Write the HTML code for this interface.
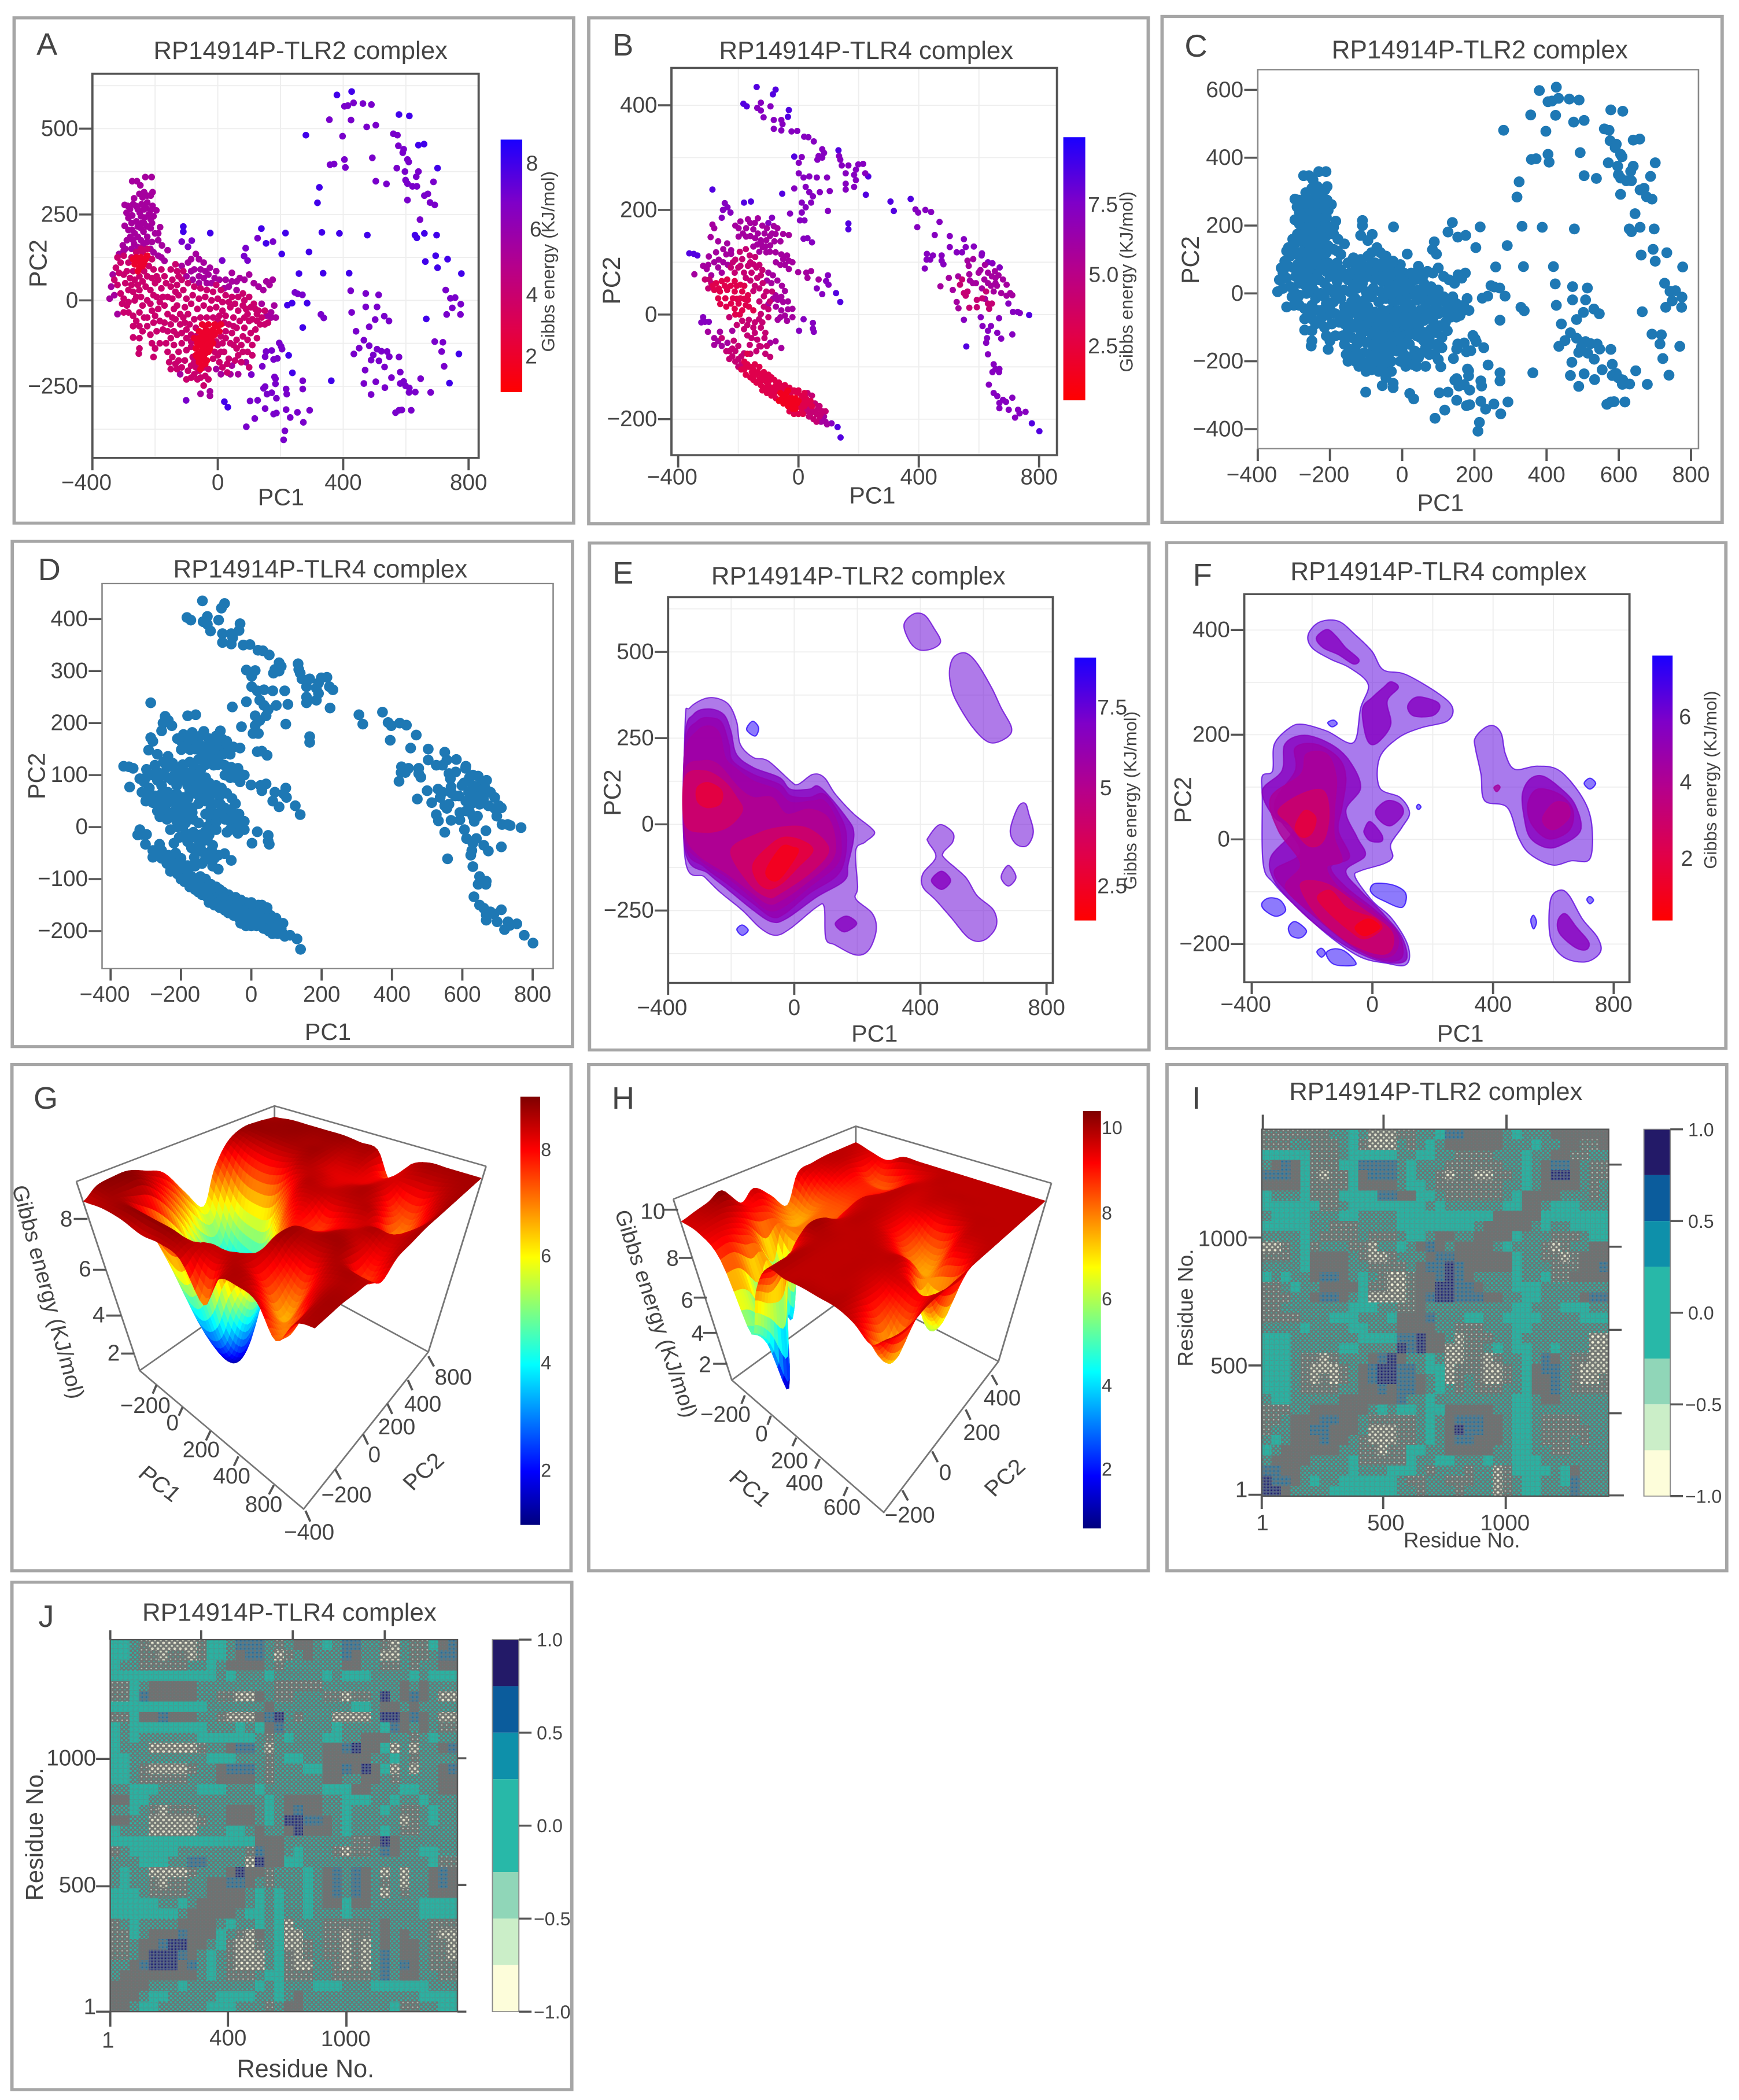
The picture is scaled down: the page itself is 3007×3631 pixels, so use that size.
<!DOCTYPE html>
<html lang="en">
<head>
<meta charset="utf-8">
<title>RP14914P-TLR2 and TLR4 complex PCA, free energy and correlation panels</title>
<style>
html,body{margin:0;padding:0;background:#fff}
svg{display:block}
text{font-family:"Liberation Sans",sans-serif;fill:#444}
.frame{fill:#fff;stroke:#a6a6a6;stroke-width:9}
.title{font-size:68px}
.letter{font-size:84px}
.axt{font-size:64px}
.axr{font-size:72px}
.cbt{font-size:53px}
.plot{fill:#fff;stroke:none}
.plotb{fill:none;stroke:#555;stroke-width:6}
.plott{fill:none;stroke:#888;stroke-width:4}
.box3{stroke:#777;stroke-width:4.5;fill:none}
</style>
</head>
<body>
<svg xmlns="http://www.w3.org/2000/svg" width="3007" height="3631" viewBox="0 0 3007 3631">
<defs>
<linearGradient id="rb" x1="0" y1="1" x2="0" y2="0">
<stop offset="0" stop-color="#ff0000"/><stop offset=".25" stop-color="#e0004a"/><stop offset=".5" stop-color="#b5008c"/><stop offset=".75" stop-color="#7f00c8"/><stop offset="1" stop-color="#1a00ff"/>
</linearGradient>
<linearGradient id="jet" x1="0" y1="1" x2="0" y2="0">
<stop offset="0" stop-color="#00007f"/><stop offset=".125" stop-color="#0000ff"/><stop offset=".375" stop-color="#00ffff"/><stop offset=".625" stop-color="#ffff00"/><stop offset=".875" stop-color="#ff0000"/><stop offset="1" stop-color="#7f0000"/>
</linearGradient>
<pattern id="p-speck" patternUnits="userSpaceOnUse" width="15" height="17"><rect width="15" height="17" fill="#747874"/><circle cx="4" cy="4" r="3.8" fill="#f2f1da"/><circle cx="11.5" cy="12.5" r="3" fill="#d5dcc6"/></pattern>
<pattern id="p-light" patternUnits="userSpaceOnUse" width="13" height="14"><rect width="13" height="14" fill="#6f7472"/><circle cx="3" cy="4" r="2.2" fill="#b6c5ba"/><circle cx="10" cy="11" r="2.2" fill="#3fa89b"/></pattern>
<pattern id="p-mix" patternUnits="userSpaceOnUse" width="12" height="13"><rect width="12" height="13" fill="#6d7473"/><circle cx="3" cy="3.5" r="3.2" fill="#2ab5a6"/><circle cx="9" cy="10" r="2.8" fill="#2ab5a6"/></pattern>
<pattern id="p-teal" patternUnits="userSpaceOnUse" width="13" height="13"><rect width="13" height="13" fill="#2ab2a2"/><circle cx="4" cy="4" r="1.5" fill="#5d8f8a"/><circle cx="10.5" cy="10.5" r="1.2" fill="#5d8f8a"/></pattern>
<pattern id="p-gray" patternUnits="userSpaceOnUse" width="10" height="10"><rect width="10" height="10" fill="#6f7271"/><circle cx="3" cy="3" r="1.6" fill="#7d6f76"/><circle cx="8" cy="8" r="1.6" fill="#5f7d80"/></pattern>
<pattern id="p-blue" patternUnits="userSpaceOnUse" width="11" height="12"><rect width="11" height="12" fill="#4d7c92"/><circle cx="3" cy="3" r="2.6" fill="#6f7271"/><circle cx="8" cy="9" r="2.2" fill="#1f6ba0"/></pattern>
<pattern id="p-navy" patternUnits="userSpaceOnUse" width="9" height="9"><rect width="9" height="9" fill="#4a5a8a"/><circle cx="3" cy="3" r="2.2" fill="#1f1a68"/><circle cx="7.5" cy="7.5" r="1.6" fill="#6f7271"/></pattern>
<pattern id="p-weave" patternUnits="userSpaceOnUse" width="27" height="31"><path d="M0 8H27M0 23H27M7 0V31M20 0V31" stroke="#6f7271" stroke-width="3" fill="none"/></pattern>
<clipPath id="clip-e"><rect x="241" y="196" width="1033" height="1162"/></clipPath>
<clipPath id="clip-f"><rect x="249" y="187" width="1027" height="1169"/></clipPath>
</defs>
<rect width="3007" height="3631" fill="#ffffff"/>

<g id="panel-a" transform="translate(0 0) scale(.6441 .5931)">
<rect class="frame" x="38" y="52" width="1502" height="1473"/>
<text class="letter" x="98" y="160">A</text>
<text class="title" x="412" y="172">RP14914P-TLR2 complex</text>
<rect class="plot" x="248" y="215" width="1037" height="1120"/>
<g id="a-layer"></g>
<rect class="plotb" x="248" y="215" width="1037" height="1120"/>
<text class="axt" x="692" y="1473">PC1</text>
<text class="axr" transform="translate(125 838) rotate(-90)">PC2</text>
<rect x="1344" y="407" width="58" height="736" fill="url(#rb)"/>
<text class="cbt" transform="translate(1488 1026) rotate(-90)">Gibbs energy (KJ/mol)</text>
</g>

<g id="panel-b" transform="translate(1000 0) scale(.6441 .5931)">
<rect class="frame" x="28" y="52" width="1502" height="1475"/>
<text class="letter" x="92" y="162">B</text>
<text class="title" x="378" y="172">RP14914P-TLR4 complex</text>
<rect class="plot" x="250" y="198" width="1035" height="1129"/>
<g id="b-layer"></g>
<rect class="plotb" x="250" y="198" width="1035" height="1129"/>
<text class="axt" x="727" y="1468">PC1</text>
<text class="axr" transform="translate(112 888) rotate(-90)">PC2</text>
<rect x="1302" y="400" width="59" height="767" fill="url(#rb)"/>
<text class="cbt" transform="translate(1488 1085) rotate(-90)">Gibbs energy (KJ/mol)</text>
</g>

<g id="panel-c" transform="translate(1990 0) scale(.6486 .5931)">
<rect class="frame" x="30" y="48" width="1493" height="1475"/>
<text class="letter" x="90" y="165">C</text>
<text class="title" x="482" y="170">RP14914P-TLR2 complex</text>
<rect class="plot" x="285" y="203" width="1175" height="1105"/>
<g id="c-layer"></g>
<rect class="plott" x="285" y="203" width="1175" height="1105"/>
<text class="axt" x="710" y="1490">PC1</text>
<text class="axr" transform="translate(128 828) rotate(-90)">PC2</text>
</g>

<g id="panel-d" transform="translate(0 920) scale(.6441 .574)">
<rect class="frame" x="33" y="28" width="1504" height="1522"/>
<text class="letter" x="102" y="145">D</text>
<text class="title" x="465" y="137">RP14914P-TLR4 complex</text>
<rect class="plot" x="274" y="155" width="1211" height="1160"/>
<g id="d-layer"></g>
<rect class="plott" x="274" y="155" width="1211" height="1160"/>
<text class="axt" x="818" y="1530">PC1</text>
<text class="axr" transform="translate(120 805) rotate(-90)">PC2</text>
</g>

<g id="panel-e" transform="translate(1000 920) scale(.6441 .574)">
<rect class="frame" x="30" y="33" width="1502" height="1527"/>
<text class="letter" x="92" y="155">E</text>
<text class="title" x="357" y="158">RP14914P-TLR2 complex</text>
<rect class="plot" x="241" y="196" width="1033" height="1162"/>
<g id="e-layer"></g>
<rect class="plotb" x="241" y="196" width="1033" height="1162"/>
<text class="axt" x="733" y="1535">PC1</text>
<text class="axr" transform="translate(113 855) rotate(-90)">PC2</text>
<rect x="1332" y="378" width="58" height="792" fill="url(#rb)"/>
<text class="cbt" style="font-size:54px" transform="translate(1498 1077) rotate(-90)">Gibbs energy (KJ/mol)</text>
</g>

<g id="panel-f" transform="translate(1990 920) scale(.6486 .574)">
<rect class="frame" x="42" y="32" width="1491" height="1523"/>
<text class="letter" x="112" y="162">F</text>
<text class="title" x="372" y="145">RP14914P-TLR4 complex</text>
<rect class="plot" x="249" y="187" width="1027" height="1169"/>
<g id="f-layer"></g>
<rect class="plotb" x="249" y="187" width="1027" height="1169"/>
<text class="axt" x="763" y="1535">PC1</text>
<text class="axr" transform="translate(107 877) rotate(-90)">PC2</text>
<rect x="1337" y="372" width="54" height="798" fill="url(#rb)"/>
<text class="cbt" style="font-size:54px" transform="translate(1508 1015) rotate(-90)">Gibbs energy (KJ/mol)</text>
</g>

<g id="panel-g" transform="translate(0 1820) scale(.6441 .5867)">
<rect class="frame" x="32" y="35" width="1501" height="1492"/>
<text class="letter" x="90" y="165">G</text>
<polyline class="box3" points="375,937 753,646 1150,882"/>
<polyline class="box3" points="205,380 737,157 1305,335"/>
<line class="box3" x1="737" y1="157" x2="737" y2="200"/>
<polyline class="box3" points="205,380 375,937 815,1345 1150,882 1305,335"/>
<g id="g-layer"></g>
<text class="axt" transform="translate(415 1287) rotate(40)" text-anchor="middle">PC1</text>
<text class="axt" transform="translate(1152 1250) rotate(-45)" text-anchor="middle">PC2</text>
<text transform="translate(110 710) rotate(76)" text-anchor="middle" style="font-size:65px">Gibbs energy (KJ/mol)</text>
<rect x="1397" y="130" width="53" height="1262" fill="url(#jet)"/>
</g>

<g id="panel-h" transform="translate(1000 1820) scale(.6441 .5867)">
<rect class="frame" x="28" y="35" width="1502" height="1492"/>
<text class="letter" x="90" y="165">H</text>
<polyline class="box3" points="412,965 748,696 1128,910"/>
<polyline class="box3" points="255,432 745,217 1270,385"/>
<line class="box3" x1="745" y1="217" x2="745" y2="270"/>
<polyline class="box3" points="255,432 412,965 820,1355 1128,910 1270,385"/>
<g id="h-layer"></g>
<text class="axt" transform="translate(447 1300) rotate(42)" text-anchor="middle">PC1</text>
<text class="axt" transform="translate(1160 1268) rotate(-45)" text-anchor="middle">PC2</text>
<text transform="translate(190 775) rotate(73)" text-anchor="middle" style="font-size:64px">Gibbs energy (KJ/mol)</text>
<rect x="1355" y="172" width="48" height="1230" fill="url(#jet)"/>
</g>

<g id="panel-i" transform="translate(2000 1820) scale(.6422 .5867)">
<rect class="frame" x="28" y="35" width="1507" height="1492"/>
<text class="letter" x="95" y="165">I</text>
<text class="title" x="357" y="140">RP14914P-TLR2 complex</text>
<g id="i-layer"></g>
<rect x="283" y="226" width="934" height="1081" fill="none" stroke="#555" stroke-width="4"/>
<text x="665" y="1458" style="font-size:57px">Residue No.</text>
<text transform="translate(97 925) rotate(-90)" style="font-size:63px">Residue No.</text>
</g>

<g id="panel-j" transform="translate(0 2720) scale(.6441 .581)">
<rect class="frame" x="32" y="27" width="1503" height="1510"/>
<text class="letter" x="103" y="160">J</text>
<text class="title" x="382" y="142">RP14914P-TLR4 complex</text>
<g id="j-layer"></g>
<rect x="296" y="198" width="932" height="1107" fill="none" stroke="#555" stroke-width="4"/>
<text x="636" y="1500" style="font-size:67px">Residue No.</text>
<text transform="translate(115 975) rotate(-90)" style="font-size:72px">Residue No.</text>
</g>
</svg>

<script>
/* ---------- PCA scatter data (PC1, PC2 pairs by Gibbs band) ---------- */
const tlr2GibbsBands = [8, 6.9, 5.4, 3.9, 2.1];
const tlr2Band8 = [[-24,196],[21,-295],[32,-311],[362,-234],[216,196],[204,135],[139,209],[154,166],[259,78],[336,79],[419,79],[332,198],[388,195],[477,190],[281,481],[701,385],[578,541],[611,537],[640,452],[658,455],[427,608],[380,598],[733,120],[777,78],[769,-156],[739,-241],[665,-54],[-110,215],[-110,200],[291,141],[324,329],[318,284],[698,190],[659,195],[629,190],[635,182],[701,95],[695,130],[662,113],[226,-160],[238,-211],[271,-79],[222,-14],[237,-8],[285,-8]];
const tlr2Band7 = [[433,575],[404,565],[415,567],[463,573],[490,570],[356,526],[425,525],[398,478],[475,505],[504,510],[560,485],[573,481],[576,450],[593,440],[590,430],[605,410],[609,403],[404,410],[358,395],[371,397],[407,387],[493,415],[571,385],[597,375],[640,375],[633,360],[504,347],[538,339],[599,350],[605,340],[621,332],[635,332],[688,345],[659,305],[670,310],[605,292],[677,285],[692,278],[645,235],[727,30],[424,28],[472,20],[513,16],[742,6],[757,8],[775,-11],[748,-22],[730,-41],[774,-41],[472,-19],[508,-19],[427,-35],[531,-46],[546,-60],[502,-56],[483,-77],[441,-90],[466,-116],[692,-120],[718,-122],[714,-149],[451,-139],[434,-156],[483,-132],[508,-142],[522,-148],[540,-149],[496,-159],[514,-176],[489,-174],[547,-164],[578,-165],[532,-194],[470,-203],[722,-192],[554,-225],[582,-209],[647,-228],[466,-242],[504,-237],[582,-242],[593,-236],[599,-249],[611,-255],[533,-254],[610,-268],[630,-267],[679,-268],[489,-274],[567,-327],[578,-320],[587,-319],[617,-320],[-101,-291],[103,-293],[127,-291],[91,-368],[118,-344],[151,-315],[178,-331],[187,-328],[157,-273],[146,-256],[151,-251],[172,-269],[187,-285],[184,-243],[181,-223],[184,-228],[218,-258],[220,-273],[218,-318],[231,-341],[254,-326],[273,-355],[293,-320],[214,-380],[210,-406],[271,-234],[271,-258],[205,-142],[196,-124],[202,-134],[154,-149],[172,-146],[151,-164],[178,-172],[190,-169],[142,-192],[107,-216],[246,23],[255,19],[270,16],[329,-41],[338,-51],[127,181],[176,171],[89,152],[84,129],[95,116],[14,116],[-115,171],[-83,174],[-95,156]];
const tlr2Band5 = [[-231,359],[-211,359],[-273,347],[-258,347],[-247,335],[-235,315],[-208,315],[-214,305],[-267,297],[-297,278],[-287,275],[-261,275],[-243,280],[-225,285],[-208,275],[-291,255],[-273,247],[-249,255],[-229,270],[-196,262],[-234,241],[-214,236],[-297,217],[-243,225],[-225,215],[-184,213],[-273,205],[-237,200],[-214,210],[-190,195],[-279,185],[-255,185],[-225,185],[-190,175],[-267,165],[-237,163],[-178,160],[-160,146],[-303,160],[-115,100],[-95,110],[-85,85],[-100,70],[-75,90],[-60,70],[-45,65],[-30,75],[-20,50],[-5,85],[-85,120],[-70,135],[-60,120],[-45,110],[25,60],[45,80],[70,65],[85,60],[100,75],[115,50],[130,40],[145,30],[165,45],[175,60],[155,55],[180,-15],[140,-10],[170,-35],[185,-50],[170,-50],[155,-45],[60,30],[35,40],[-5,-200],[10,-215],[40,-215],[65,-215],[-120,-215],[-55,-272],[-25,-265],[-25,-278],[90,-180],[45,-190],[-340,40],[-345,5],[-335,75],[-320,-40],[-330,15],[-285,240],[-260,230],[-245,245],[-220,250],[-205,245],[-280,265],[-255,265],[-235,265],[-215,262],[-275,225],[-255,215],[-235,225],[-210,225],[-285,205],[-265,195],[-245,210],[-200,195],[-290,175],[-270,175],[-245,175],[-210,170],[-295,150],[-275,150],[-255,155],[-215,150],[-205,140],[-190,130],[-180,125],[-170,115],[-315,135],[-300,145],[-225,170],[-240,300],[-225,305],[-250,310],[-270,280],[45,55],[60,55],[20,35],[5,60],[-10,65],[-25,95],[-35,50],[-60,50],[-80,60],[-40,85],[-55,90]];
const tlr2Band4 = [[-300,130],[-310,110],[-320,125],[-245,150],[-225,150],[-320,45],[-310,20],[-305,-10],[-290,-15],[-300,-35],[-270,-45],[-250,-35],[-270,25],[-250,30],[-245,10],[-265,0],[-230,40],[-215,30],[-200,50],[-195,10],[-180,35],[-215,-10],[-210,-30],[-190,-25],[-235,-50],[-225,-75],[-250,-75],[-270,-75],[-205,-65],[-195,-90],[-215,-100],[-270,-108],[-250,-110],[-250,-140],[-252,-155],[-210,-125],[-200,-140],[-205,-165],[-185,-125],[-165,-125],[-175,-85],[-150,-70],[-160,-40],[-170,-15],[-160,10],[-150,40],[-170,70],[-150,90],[-130,85],[-180,90],[-195,70],[-115,60],[-130,45],[-110,30],[-95,50],[-75,40],[-55,35],[-35,30],[-15,25],[-5,45],[10,30],[-125,15],[-100,5],[-80,15],[-60,5],[-40,10],[-20,0],[0,5],[15,-5],[-130,-15],[-105,-20],[-85,-10],[-65,-25],[-45,-15],[-25,-25],[-5,-20],[15,-30],[25,-45],[40,-20],[50,-50],[65,-30],[80,-15],[95,-40],[110,-55],[125,-60],[140,-50],[130,-30],[115,-10],[100,10],[80,20],[25,-110],[45,-95],[60,-80],[85,-80],[105,-95],[20,-150],[35,-170],[65,-160],[95,-150],[110,-130],[75,-130],[50,-130],[30,-185],[5,-180],[0,-130],[15,-125],[-70,-80],[-85,-100],[-100,-85],[-120,-70],[-130,-100],[-115,-125],[-140,-130],[-125,-150],[-100,-145],[-85,-135],[-105,-175],[-85,-190],[-150,-200],[-130,-200],[-100,-230],[-80,-165],[-60,-205],[-40,-220],[-30,-230],[-45,-248],[-30,-200],[-45,-195],[-270,85],[-290,85],[-280,65],[-300,75],[-265,60],[-250,70],[-235,85],[-220,100],[-210,120],[-205,90],[-240,140],[-260,140],[-285,110],[-275,125],[-325,95],[-330,60],[-315,80],[-295,50],[-285,30],[-300,5],[-285,-5],[-275,45],[-260,10],[-240,-15],[-225,0],[-205,15],[-190,60],[-210,65],[-225,70],[-240,55],[-255,45],[-285,-35],[-260,-60],[-240,-90],[-225,-50],[-200,-45],[-185,-60],[-170,-65],[-160,-90],[-145,-50],[-140,-25],[-145,5],[-135,25],[-145,60],[-125,70],[-110,85],[-135,105],[-165,50],[-175,10],[-185,-5],[-110,-50],[-95,-40],[-75,-55],[-55,-50],[-35,-50],[-15,-50],[5,-45],[-120,-40],[-135,-55],[-105,-65],[-90,-70],[-115,-95],[-100,-110],[-85,-120],[-70,-105],[-70,-120],[-125,-175],[-145,-165],[-160,-150],[-150,-110],[-140,-90],[-155,-180],[-135,-185],[-115,-195],[-95,-205],[-75,-215],[-85,-225],[-65,-230],[-55,-225],[-70,-195],[-75,-180],[0,-60],[20,-65],[35,-70],[50,-75],[70,-60],[85,-50],[100,-60],[90,-25],[55,-10],[35,-5],[25,15],[45,10],[65,10],[85,0],[105,-20],[120,-25],[135,-70],[120,-85],[95,-115],[80,-105],[60,-115],[40,-125],[25,-90],[10,-105],[-5,-120],[10,-150],[-10,-150],[-15,-170],[0,-160],[15,-195],[30,-210],[55,-175],[75,-180],[80,-150],[60,-140],[125,-110],[110,-160],[100,-195],[125,-40],[150,-30],[160,-65],[150,-70]];
const tlr2Band2 = [[-255,115],[-245,125],[-265,105],[-235,110],[-250,95],[-225,130],[-40,-110],[-50,-100],[-30,-100],[-45,-125],[-55,-130],[-35,-130],[-60,-110],[-25,-120],[-20,-95],[-40,-90],[-50,-145],[-60,-155],[-40,-155],[-30,-150],[-70,-140],[-50,-170],[-35,-175],[-60,-180],[-10,-100],[5,-90],[-10,-70],[10,-70],[-30,-70],[-50,-70],[-260,125],[-240,100],[-255,85],[-270,120],[-230,120],[-245,110],[-35,-115],[-45,-140],[-55,-115],[-40,-135],[-65,-125],[-30,-125],[-20,-110],[-55,-160],[-45,-165],[-65,-165],[-30,-90],[-15,-85],[0,-75],[-40,-75],[-60,-90],[-75,-110],[-70,-160],[-50,-190],[-40,-185],[-55,-200],[-15,-125],[-25,-140]];

const tlr4GibbsBands = [8.6, 7.3, 6, 4.4, 3, 1.6];
const tlr4Band8 = [[-286,239],[-181,214],[-158,216],[-139,435],[-76,430],[139,24],[166,174],[166,163],[306,216],[317,198],[373,221],[801,-223],[776,-208],[140,-235],[130,-215],[558,-61],[767,-1],[125,41],[-35,378],[-32,391],[-14,302],[-54,231],[-85,421],[-183,403],[-172,398],[133,314],[232,264],[224,229],[-363,117],[-348,116],[-336,113]];
const tlr4Band7 = [[-125,405],[-137,395],[-125,390],[-116,377],[-93,398],[-82,372],[-57,372],[-53,364],[-82,355],[-57,352],[-23,350],[-4,351],[19,340],[33,339],[51,331],[11,301],[1,290],[79,316],[85,309],[67,303],[79,300],[63,296],[135,303],[139,296],[144,285],[166,285],[199,287],[215,288],[191,277],[185,267],[222,270],[191,257],[157,270],[1,270],[17,262],[36,264],[61,262],[24,244],[95,262],[-14,241],[36,234],[48,226],[71,234],[104,236],[157,250],[157,239],[185,244],[11,214],[42,214],[24,205],[98,198],[11,195],[-28,193],[5,180],[20,180],[17,145],[30,146],[45,138],[389,201],[398,195],[422,200],[441,196],[395,167],[469,177],[453,152],[503,150],[427,116],[447,113],[426,105],[438,105],[420,88],[476,113],[476,103],[482,96],[503,129],[526,119],[544,119],[550,144],[556,129],[583,130],[610,117],[609,113],[630,100],[645,98],[669,90],[698,21],[713,5],[729,5],[736,3],[550,-10],[606,-5],[667,-7],[612,-22],[640,-22],[630,-31],[627,-45],[624,-54],[661,-35],[674,-46],[711,-38],[630,-76],[649,-95],[655,-104],[668,-104],[645,-110],[667,-110],[633,-134],[649,-150],[661,-156],[680,-163],[711,-159],[668,-169],[690,-167],[668,-179],[699,-182],[730,-182],[755,-186],[720,-197],[735,-189],[110,-208],[-245,213],[-236,205],[-251,200],[-226,195],[-255,185],[-88,185],[-100,175],[-317,-5],[-323,-15],[-311,-14],[-298,-14],[79,39],[61,50],[100,57],[92,64],[98,75],[48,-16],[48,-27],[51,-33],[2,-31],[17,-9]];
const tlr4Band6 = [[-286,172],[-280,165],[-292,148],[-267,140],[-237,136],[-224,123],[-224,116],[-274,119],[-298,111],[-346,77],[-317,93],[-305,87],[-267,90],[-255,80],[-193,178],[-168,182],[-135,184],[-82,169],[-199,165],[-174,165],[-150,163],[-113,155],[-88,155],[-76,154],[-51,154],[-32,152],[-199,149],[-174,149],[-144,146],[-125,142],[-107,142],[-137,134],[-119,129],[-94,132],[-107,119],[-125,136],[-76,119],[-57,115],[-38,113],[-51,106],[-32,103],[-20,100],[-32,87],[-1,81],[26,80],[42,83],[30,70],[67,67],[-100,80],[-76,37],[-57,34],[-69,28],[-51,24],[-20,11],[-57,8],[-45,-2],[-20,-5],[-69,-10],[-38,-12],[500,70],[472,54],[531,73],[568,77],[599,80],[618,67],[653,83],[643,73],[655,70],[680,67],[692,57],[704,41],[711,37],[649,44],[674,41],[692,36],[562,103],[581,106],[566,93],[-301,-33],[-261,-33],[-220,-31],[-280,-45],[-267,-51],[-280,-58],[-255,-60],[-236,-54],[-94,-54],[-76,-51],[-57,-64],[513,47],[526,24],[532,12],[90,-205],[95,-210],[85,-195],[80,-200],[75,-205],[-210,170],[-185,155],[-160,175],[-145,175],[-120,170],[-105,165],[-95,150],[-160,150],[-135,155],[-110,130],[-130,120],[-95,120],[-150,130],[-70,165],[-60,140],[-80,140],[-45,95],[-60,95],[-75,100],[-85,75],[-70,65],[-55,55],[-45,45],[-35,25],[-35,10],[-85,30],[-100,20],[-75,15],[-60,-5],[-90,60],[-105,65],[-300,95],[-290,75],[-280,100],[-265,105],[-250,100],[-240,115],[-250,125],[-235,95],[590,60],[610,50],[630,60],[640,55],[655,60],[665,75],[630,80],[620,95],[605,85],[580,60],[570,65],[660,55],[620,30]];
const tlr4Band4 = [[-311,67],[-296,67],[-218,100],[-187,106],[-162,113],[-144,110],[-193,93],[-168,93],[-150,96],[-212,80],[-181,80],[-156,80],[-137,70],[-119,60],[-88,44],[-107,44],[-187,-12],[-230,-5],[-131,-9],[-125,1],[-100,-5],[544,67],[537,57],[550,41],[562,44],[556,36],[624,44],[568,13],[593,14],[611,31],[593,28],[630,21],[643,21],[634,11],[-181,-28],[-150,-25],[-125,-25],[-156,-45],[-137,-48],[-113,-45],[-162,-58],[-125,-61],[-94,-81],[-181,-74],[-230,-70],[-230,-85],[-220,-80],[-220,-65],[-210,-90],[-210,-70],[-200,-85],[-200,-100],[-190,-95],[-190,-80],[40,-190],[45,-155],[50,-185],[50,-200],[55,-170],[60,-190],[60,-205],[65,-180],[70,-195],[70,-175],[75,-190],[80,-185],[35,-195],[35,-180],[30,-150],[25,-185],[90,-185],[-290,60],[-300,50],[-225,90],[-210,105],[-195,120],[-175,125],[-160,100],[-140,90],[-130,95],[-120,85],[-125,75],[-200,90],[-175,70],[-160,65],[-145,55],[-130,50],[-115,35],[-95,25],[-130,25],[-115,15],[-100,10],[-150,45],[-205,-20],[-170,-20],[-165,-10],[-145,-15],[-120,-15],[-170,-40],[-145,-35],[-130,-60],[-110,-35],[-105,-60],[-110,-75],[-140,-70],[-160,-75],[-200,-60],[-215,-50],[-240,-70],[-255,-45]];
const tlr4Band3 = [[-274,60],[-255,64],[-237,67],[-212,64],[-193,57],[-280,47],[-261,44],[-237,47],[-212,44],[-187,44],[-168,37],[-267,31],[-243,31],[-218,31],[-193,31],[-168,28],[-224,21],[-199,21],[-175,18],[-212,11],[-187,8],[-150,8],[-180,-105],[-180,-90],[-175,-115],[-170,-95],[-160,-120],[-160,-100],[-155,-110],[-150,-125],[-150,-105],[-145,-115],[-145,-95],[-140,-130],[-140,-115],[-135,-110],[-130,-125],[-130,-100],[-125,-135],[-125,-115],[-120,-125],[-120,-145],[-115,-110],[-110,-140],[-110,-120],[-105,-130],[-105,-150],[-100,-135],[-100,-115],[-95,-145],[-95,-125],[-90,-155],[-90,-120],[-85,-140],[-80,-125],[-80,-150],[-75,-135],[-75,-160],[-70,-145],[-65,-130],[-60,-135],[-55,-140],[-45,-135],[-50,-145],[-30,-140],[-25,-150],[-15,-145],[-5,-150],[0,-145],[10,-155],[20,-150],[30,-170],[25,-160],[20,-175],[15,-165],[15,-190],[10,-180],[5,-175],[0,-190],[-30,-185],[-15,-190],[40,-165],[45,-175],[-285,55],[-265,50],[-245,55],[-225,55],[-205,55],[-180,55],[-260,20],[-240,15],[-205,30],[-180,30],[-195,0],[-210,0],[-165,15],[-170,-75],[-165,-100],[-190,-105],[-175,-100]];
const tlr4Band1 = [[-65,-165],[-60,-150],[-55,-160],[-50,-170],[-45,-155],[-40,-165],[-40,-150],[-35,-175],[-35,-145],[-30,-160],[-25,-170],[-20,-180],[-20,-160],[-15,-170],[-10,-160],[-10,-180],[-5,-170],[0,-165]];

/* ---------- free-energy contours: PC1,PC2 outlines per level ---------- */
const contourELevels = [7.6,6.9,6.4,6.0,5.4,4.2,4.2,3.0,3.0,2.2,7.6,7.6,8.8,8.8,7.6,6.9,7.6,7.6,6.9];
const contourEShapes = [
[[-346,290],[-331,338],[-272,367],[-213,352],[-183,299],[-171,232],[-130,194],[-83,184],[-12,126],[12,116],[59,145],[95,136],[130,88],[189,30],[242,-9],[254,-28],[224,-52],[195,-76],[201,-182],[195,-216],[248,-259],[260,-307],[236,-365],[195,-379],[130,-350],[100,-331],[95,-240],[71,-240],[-12,-302],[-59,-322],[-106,-302],[-165,-249],[-236,-196],[-284,-153],[-346,-100]],
[[-346,251],[-319,319],[-272,335],[-224,319],[-201,271],[-183,203],[-130,165],[-47,136],[-12,102],[47,102],[83,107],[165,20],[189,-28],[171,-115],[159,-163],[71,-211],[-24,-273],[-71,-283],[-130,-249],[-213,-187],[-272,-143],[-346,-76]],
[[-346,232],[-307,299],[-266,309],[-230,295],[-207,232],[-195,184],[-130,145],[-47,116],[-12,83],[47,78],[95,88],[142,30],[165,-28],[159,-105],[130,-153],[47,-201],[-30,-259],[-71,-269],[-130,-230],[-213,-172],[-284,-124],[-346,-57]],
[[-346,203],[-307,271],[-266,285],[-236,261],[-219,194],[-189,165],[-130,126],[-59,102],[-12,64],[59,68],[95,68],[130,20],[148,-47],[136,-115],[47,-182],[-35,-240],[-83,-249],[-136,-211],[-213,-153],[-295,-105],[-346,-38]],
[[-346,155],[-295,184],[-242,174],[-177,107],[-130,78],[-71,78],[-24,30],[47,44],[106,20],[130,-47],[118,-105],[35,-172],[-41,-220],[-83,-230],[-142,-192],[-213,-143],[-307,-86],[-346,-18]],
[[-346,136],[-284,155],[-224,126],[-183,78],[-165,39],[-213,-9],[-284,-23],[-346,1]],
[[-201,-76],[-118,-28],[-47,-9],[35,-9],[95,-47],[106,-86],[47,-143],[-47,-201],[-83,-211],[-142,-172]],
[[-307,107],[-272,121],[-230,97],[-236,59],[-278,49],[-307,68]],
[[-130,-115],[-83,-66],[-35,-38],[24,-47],[59,-76],[12,-124],[-41,-172],[-83,-187],[-118,-163]],
[[-89,-134],[-41,-66],[-6,-66],[12,-81],[-41,-153],[-71,-163]],
[[348,579],[378,610],[413,607],[443,569],[464,530],[437,509],[396,506],[366,530]],
[[493,453],[508,487],[543,497],[579,468],[626,396],[656,338],[689,280],[673,251],[620,237],[567,280],[514,357],[496,405]],
[[-151,275],[-132,299],[-113,280],[-124,256]],
[[-182,-305],[-165,-292],[-146,-307],[-165,-322]],
[[425,-38],[461,-1],[502,-23],[502,-52],[473,-81],[478,-100],[543,-153],[579,-206],[632,-249],[640,-297],[602,-336],[555,-331],[496,-269],[449,-220],[408,-182],[408,-143],[449,-95],[425,-52]],
[[435,-163],[467,-136],[496,-163],[467,-189]],
[[685,-18],[709,49],[732,61],[744,30],[758,-23],[738,-62],[703,-57]],
[[656,-153],[679,-119],[703,-153],[679,-179]],
[[130,-288],[165,-266],[198,-288],[159,-312]]
];
const contourFLevels = [6.6,5.6,5.0,4.4,3.0,3.0,1.8,1.8,0.8,5.7,5.7,5.7,5.6,5.7,7.6,7.6,6.6,5.6,5.0,4.2,4.6,7.6,6.6,5.6,7.6,7.6,7.6,7.6,7.6,7.6,7.6];
const contourFShapes = [
[[-365,121],[-331,131],[-325,182],[-275,213],[-232,220],[-151,207],[-63,185],[-39,251],[-14,296],[-76,328],[-138,344],[-200,366],[-213,391],[-176,415],[-113,417],[-57,391],[-1,359],[36,324],[111,315],[223,277],[266,251],[248,226],[161,213],[86,194],[24,156],[24,99],[92,80],[123,51],[98,23],[61,-9],[67,-34],[36,-47],[-39,-60],[-57,-72],[-1,-117],[61,-149],[111,-193],[123,-225],[105,-241],[49,-237],[-39,-225],[-138,-187],[-238,-136],[-325,-85],[-362,-47],[-365,80]],
[[-365,93],[-300,131],[-290,182],[-225,199],[-138,182],[-76,150],[-39,99],[-88,55],[-51,4],[-24,-31],[-88,-60],[-39,-98],[36,-142],[98,-187],[111,-231],[36,-234],[-63,-212],[-163,-174],[-250,-130],[-325,-79],[-337,-34],[-263,17],[-325,42]],
[[-325,61],[-256,131],[-256,175],[-188,182],[-113,156],[-88,118],[-101,61],[-113,17],[-76,-34],[-138,-53],[-88,-91],[11,-136],[86,-180],[98,-225],[36,-231],[-63,-206],[-176,-155],[-275,-104],[-325,-60],[-238,-22]],
[[-337,80],[-238,124],[-219,163],[-151,163],[-120,118],[-126,55],[-126,4],[-101,-41],[-151,-53],[-113,-91],[-1,-136],[80,-180],[73,-218],[11,-225],[-76,-199],[-200,-142],[-288,-91],[-238,-47],[-312,17]],
[[-312,55],[-238,86],[-163,93],[-144,48],[-163,-3],[-213,-12],[-275,29]],
[[-238,-85],[-151,-85],[-39,-130],[61,-174],[61,-212],[11,-218],[-88,-193],[-188,-142]],
[[-256,23],[-225,55],[-188,42],[-200,13],[-232,4]],
[[-182,-110],[-138,-98],[-88,-130],[-39,-142],[11,-152],[30,-171],[-26,-190],[-76,-174],[-151,-136]],
[[-57,-168],[-14,-152],[24,-168],[-26,-184]],
[[-186,385],[-151,401],[-120,388],[-88,366],[-45,344],[-63,335],[-113,353],[-163,366]],
[[-32,251],[-1,271],[36,290],[61,301],[86,290],[49,264],[61,220],[24,188],[-7,182],[-26,207]],
[[117,255],[148,272],[210,264],[223,251],[198,236],[136,236]],
[[11,55],[49,74],[92,67],[101,48],[61,26],[24,36]],
[[-26,20],[-7,34],[30,10],[30,-4],[-7,-3],[-26,10]],
[[-148,223],[-129,228],[-117,221],[-134,215]],
[[146,62],[153,67],[161,62],[153,57]],
[[341,194],[372,213],[403,217],[428,201],[441,163],[472,134],[547,140],[621,131],[696,80],[727,29],[721,-37],[659,-41],[596,-49],[522,-28],[484,4],[447,61],[372,74],[360,124],[341,175]],
[[497,86],[522,115],[565,121],[621,99],[671,67],[690,17],[621,-12],[571,-15],[522,4],[503,42]],
[[515,67],[547,96],[621,86],[665,55],[652,17],[584,1],[528,29]],
[[565,42],[603,70],[646,67],[652,42],[609,20],[578,23]],
[[403,99],[416,104],[423,99],[412,91]],
[[702,107],[721,117],[740,107],[721,96]],
[[590,-117],[621,-97],[652,-107],[696,-152],[746,-187],[756,-215],[708,-234],[634,-225],[590,-187]],
[[615,-155],[640,-142],[677,-168],[717,-196],[708,-211],[671,-206],[621,-180]],
[[711,-115],[721,-109],[733,-116],[721,-123]],
[[525,-155],[534,-145],[544,-158],[534,-171]],
[[-367,-123],[-344,-112],[-306,-116],[-288,-136],[-319,-147],[-356,-136]],
[[-278,-168],[-256,-157],[-219,-174],[-238,-188],[-269,-184]],
[[-153,-218],[-126,-209],[-88,-215],[-55,-239],[-126,-239]],
[[-184,-215],[-169,-208],[-156,-217],[-169,-225]],
[[-7,-95],[11,-84],[73,-88],[111,-104],[98,-130],[36,-117],[5,-107]]
];

/* ---------- 3D free-energy surfaces: Gibbs height per PC1 (row) / PC2 (column) grid ---------- */
const surfaceGHeights = [
[8.4,8.8,8.9,8.9,8.6,8.2,7.0,6.0,7.4,8.4,8.8,8.8,8.7],
[8.6,8.7,8.5,8.2,7.2,5.6,4.2,4.2,5.8,7.8,8.7,8.8,8.8],
[8.6,8.7,6.5,4.0,2.6,2.0,2.4,3.4,5.4,7.6,8.6,8.8,8.8],
[8.4,8.7,5.5,2.8,1.4,1.1,2.0,3.4,5.6,7.8,8.6,8.7,8.8],
[8.5,8.7,6.5,3.2,1.9,2.0,3.2,5.2,7.2,8.4,8.7,8.7,8.8],
[8.3,8.5,8.0,5.0,3.8,4.4,5.6,7.4,8.4,8.5,8.3,8.5,8.7],
[6.8,8.2,8.3,6.6,6.0,6.6,7.6,8.2,8.5,8.3,8.2,8.5,8.6],
[8.4,8.6,8.5,8.4,8.6,8.5,7.9,7.6,8.4,8.5,8.2,8.0,7.4],
[8.6,8.4,7.6,7.8,8.4,8.6,8.2,8.0,8.5,8.6,8.4,8.3,8.4],
[8.4,7.4,6.6,7.2,8.2,8.7,8.6,8.3,8.5,8.0,7.6,8.4,8.7],
[7.2,7.0,7.8,8.2,8.6,8.6,8.4,8.6,7.6,6.9,7.4,8.4,8.7],
[8.4,8.5,8.6,8.6,8.6,7.6,8.0,8.4,8.2,7.8,8.3,8.6,8.7],
[8.7,8.7,8.7,8.6,8.5,8.0,8.5,8.6,8.7,8.7,8.7,8.7,8.7]
];
const surfaceHHeights = [
[9.6,9.8,10,10.3,9.2,9.7,8.9,7.9,9.5,9.7,9.8,9.8,9.8],
[9.5,9.6,9.6,9.2,8.6,8.4,7.6,7.6,8.5,9.4,9.7,9.6,9.5],
[8.6,8.6,7.8,7.6,3.4,7.6,8,8.2,8.4,8.8,9,8.5,9.3],
[5,4,1,7.0,7.2,8,8,8.3,8.5,8.8,8.8,8.4,9.8],
[8,7.5,8,9,9.8,9.8,9.2,9.4,9.6,9.3,9,9,9.8],
[9.8,9.8,9.8,9.8,9.9,9.8,9.8,9.8,9.8,9.8,9.7,9.5,9.8],
[9.8,9.8,9.8,9.8,9.8,9.8,9.8,9.7,9.6,9.6,9.7,9.8,9.8],
[9.9,9.8,9.8,9.8,9.8,9.8,9.6,9.0,9.0,9.6,9.8,9.8,9.8],
[9.9,9.8,9.8,9.8,9.8,9.7,9.0,8.0,8.2,9.4,9.8,9.8,9.8],
[9.9,9.8,9.6,9.5,9.7,9.6,8.6,7.6,8.2,9.6,9.8,9.8,9.8],
[9.6,9,8.4,8.8,9.5,8.0,6.0,8.6,9.5,9.8,9.8,9.8,9.8],
[9.0,7.5,7.0,8.5,9.2,7.4,6.5,9.0,9.7,9.8,9.8,9.8,9.8],
[9.8,9.6,9.6,9.8,9.8,9.8,9.8,9.8,9.8,9.8,9.8,9.8,9.8]
];

/* ---------- correlation maps: each digit indexes corrLevels, top row first ---------- */
const corrLevels = [-0.9,-0.55,0.05,0.3,0.55,0.75,0.95];
const matrixI = [
"111111133230001133255444432333444444","111331113210003132344444433323344114","222221113222223322331111333233441133",
"345421112255553233311111133234554311","555421011245553233101100113234664311","444421111244443223111111133234444313",
"233321112222554422311111132444433313","222222113222222223233333322443222333","322223332233332222222222444442222222",
"222223311133332222222234444432332222","333323111131113223443344442333111322","001321333110332345434444323331013344",
"111324444310013334554444442331101444","333324444331111345565444442333111445","232334554323100144565433332332114444",
"113233444421100144665543332223333333","111334554320000145665554433223333455","113333333222331143333333332233322233",
"111133322233324445333223322223333222","333323333223334444331113332233333333","222333333322225564430111332333333300",
"222333332233336564400113232233233300","222311013334564332300110133235431100","222310001345665532201110013245531000",
"222310101345665543201310013244531001","222311113344545543231311133244531111","322333334444445332333333332234433333",
"111334444443232232244444332233333333","113444554431111132345554432231111333","133445544430001132346554432231111133",
"323444544310001132345544432231113133","234444443311011223344444332233113333","344443333211111233223332332223333333",
"554433333233322231333133012222324333","655432332222223113311133013223325333","664333322222223313331333013223335333"];
const matrixJ = [
"223100000122355531344323553310311245","223110110122345530134333543300311355","233111113323444431333333443311313344",
"222222222223233323333323222333323222","112344444333333331111133333333434333","112544444331100431133311011363454300",
"222222222233333343333333322344343333","112445444331000456313330000366454300","232222222233323245333332333325434311",
"232333333222222313233322334443313233","233300000133455303333344564420303345","223333333322233313223344444332313333",
"223100001334555313332244546420303345","223111113334444313333344334431333344","332223333222333233333322244333223344",
"442233333333333323444433222332332333","332310111333444323454433233323113233","443300000133444323665543233333013233",
"233300000333223433464443233323113333","222222222222222444333333311464333333","132222233333331544323331011354332233",
"333222335533330644223333333333333211","323300001333464413332345354303033454","323310113344554313332345354313033454",
"222311113344443232332345354303133444","222223323444443232332344244333332222","222222234444432232332333233333332222",
"132333344443233232033311111343333111","112344454442310432003311011343433100","113445664432100132001311010343443110",
"113466654323100032101311010353443110","334566645323100032100331010353543111","344444444323111322111331111353443311",
"444433323333333232333222333222222333","444322333332222332343333333333332222","443223333322233313443333333332113322"];

/* ---------- axis ticks ---------- */
const ticksAx = [-400,0,400,800];
const ticksAy = [500,250,0,-250];
const ticksBy = [400,200,0,-200];
const ticksCx = [-400,-200,0,200,400,600,800];
const ticksCy = [600,400,200,0,-200,-400];
const ticksDy = [400,300,200,100,0,-100,-200];

const NS = 'http://www.w3.org/2000/svg';
function mk(tag, parent, name, attrs) {
  const el = document.createElementNS(NS, tag);
  
  
  for (const k in attrs) el.setAttribute(k, attrs[k]);
  parent.appendChild(el);
  return el;
}
function txt(parent, name, x, y, str, size, anchor) {
  const el = mk('text', parent, name, {x:x, y:y, 'font-size':size, 'text-anchor':anchor||'start'});
  el.textContent = str;
  return el;
}
function linear(d0, d1, r0, r1) { return v => r0 + (v - d0) * (r1 - r0) / (d1 - d0); }
function fmt(v) { return v < 0 ? '\u2212' + Math.abs(v) : String(v); }

const rampStops = [[255,0,0],[224,0,74],[181,0,140],[127,0,200],[26,0,255]];
function ramp(t) {
  t = Math.max(0, Math.min(1, t)) * (rampStops.length - 1);
  const i = Math.min(rampStops.length - 2, Math.floor(t)), f = t - i;
  const a = rampStops[i], b = rampStops[i + 1];
  return 'rgb(' + a.map((c, k) => Math.round(c + (b[k] - c) * f)).join(',') + ')';
}
function jet(t) {
  t = Math.max(0, Math.min(1, t));
  const c = x => Math.round(255 * Math.max(0, Math.min(1, 1.5 - Math.abs(4 * t - x))));
  return 'rgb(' + c(3) + ',' + c(2) + ',' + c(1) + ')';
}

function gridAndAxes(g, cfg) {
  const grid = mk('g', g, 'gridlines', {});
  if (cfg.gridX) cfg.gridX.forEach(v => mk('line', grid, 'vertical-gridline', {x1:cfg.x(v), x2:cfg.x(v), y1:cfg.top, y2:cfg.bottom, stroke:'#eeeeee', 'stroke-width':3}));
  if (cfg.gridY) cfg.gridY.forEach(v => mk('line', grid, 'horizontal-gridline', {y1:cfg.y(v), y2:cfg.y(v), x1:cfg.left, x2:cfg.right, stroke:'#eeeeee', 'stroke-width':3}));
  cfg.xTicks.forEach(v => {
    mk('line', g, 'x-tick', {x1:cfg.x(v), x2:cfg.x(v), y1:cfg.bottom, y2:cfg.bottom + 36, stroke:'#555', 'stroke-width':6});
    txt(g, 'x-tick-label', cfg.x(v) + (v < 0 ? -16 : 0), cfg.xBase, fmt(v), 60, 'middle');
  });
  cfg.yTicks.forEach(v => {
    mk('line', g, 'y-tick', {x1:cfg.left - 36, x2:cfg.left, y1:cfg.y(v), y2:cfg.y(v), stroke:'#555', 'stroke-width':6});
    txt(g, 'y-tick-label', cfg.left - 38, cfg.y(v) + 21, fmt(v), 60, 'end');
  });
}
function dots(g, pts, x, y, r, ry, fill) {
  pts.forEach(p => mk('ellipse', g, 'data-point', {cx:x(p[0]), cy:y(p[1]), rx:r, ry:ry, fill:fill}));
}
function smoothClosed(pts, x, y) {
  const P = pts.map(p => [x(p[0]), y(p[1])]), n = P.length;
  let d = 'M' + P[0][0].toFixed(1) + ' ' + P[0][1].toFixed(1);
  for (let i = 0; i < n; i++) {
    const p0 = P[(i - 1 + n) % n], p1 = P[i], p2 = P[(i + 1) % n], p3 = P[(i + 2) % n];
    d += 'C' + (p1[0] + (p2[0] - p0[0]) / 6).toFixed(1) + ' ' + (p1[1] + (p2[1] - p0[1]) / 6).toFixed(1) + ' ' +
         (p2[0] - (p3[0] - p1[0]) / 6).toFixed(1) + ' ' + (p2[1] - (p3[1] - p1[1]) / 6).toFixed(1) + ' ' +
         p2[0].toFixed(1) + ' ' + p2[1].toFixed(1);
  }
  return d + 'Z';
}
function contours(g, shapes, levels, x, y, gmin, gmax, faintAt, clip) {
  const layer = mk('g', g, 'contour-bands', {'clip-path':'url(#' + clip + ')'});
  shapes.forEach((s, i) => {
    const col = ramp((levels[i] - gmin) / (gmax - gmin));
    mk('path', layer, 'contour-band', {d:smoothClosed(s, x, y), fill:col, 'fill-opacity':levels[i] >= faintAt ? 0.52 : 0.82, stroke:col, 'stroke-opacity':0.75, 'stroke-width':3.5});
  });
}
function cbLabels(g, items) {
  items.forEach(it => txt(g, 'colorbar-tick-label', it[0], it[1], it[2], it[3] || 58, 'start'));
}

/* panels A and B */
(function () {
  const g = document.getElementById('a-layer');
  const x = linear(-400, 800, 248, 1258), y = linear(-250, 500, 1126, 375);
  gridAndAxes(g, {x:x, y:y, left:248, right:1285, top:215, bottom:1335, xTicks:ticksAx, yTicks:ticksAy, xBase:1428, gridX:[-200,0,200,400,600], gridY:[625,500,375,250,125,0,-125,-250,-375]});
  const c = v => ramp((v - 0.9) / 7.85);
  [tlr2Band8, tlr2Band7, tlr2Band5, tlr2Band4, tlr2Band2].forEach((b, i) => dots(g, b, x, y, 9, 9.8, c(tlr2GibbsBands[i])));
  cbLabels(g.parentNode, [[1412,497,'8'],[1422,690,'6'],[1412,880,'4'],[1410,1060,'2']]);
})();
(function () {
  const g = document.getElementById('b-layer');
  const x = linear(-400, 800, 268, 1237), y = linear(-200, 400, 1222, 307);
  gridAndAxes(g, {x:x, y:y, left:250, right:1285, top:198, bottom:1327, xTicks:ticksAx, yTicks:ticksBy, xBase:1412, gridX:[-200,0,200,400,600], gridY:[400,300,200,100,0,-100,-200]});
  const c = v => ramp((v - 0.62) / 9.3);
  [tlr4Band8, tlr4Band7, tlr4Band6, tlr4Band4, tlr4Band3, tlr4Band1].forEach((b, i) => dots(g, b, x, y, 8.5, 9.2, c(tlr4GibbsBands[i])));
  cbLabels(g.parentNode, [[1368,618,'7.5'],[1370,822,'5.0'],[1368,1030,'2.5']]);
})();
/* panels C and D */
(function () {
  const g = document.getElementById('c-layer');
  const x = linear(-400, 800, 285, 1440), y = linear(-400, 600, 1251, 262);
  gridAndAxes(g, {x:x, y:y, left:285, right:1460, top:203, bottom:1308, xTicks:ticksCx, yTicks:ticksCy, xBase:1405});
  [tlr2Band8, tlr2Band7, tlr2Band5, tlr2Band4, tlr2Band2].forEach(b => dots(g, b, x, y, 14.5, 15.8, '#1e78b4'));
})();
(function () {
  const g = document.getElementById('d-layer');
  const x = linear(-400, 800, 297, 1430), y = linear(-200, 400, 1202, 262);
  gridAndAxes(g, {x:x, y:y, left:274, right:1485, top:155, bottom:1315, xTicks:ticksCx, yTicks:ticksDy, xBase:1415});
  [tlr4Band8, tlr4Band7, tlr4Band6, tlr4Band4, tlr4Band3, tlr4Band1].forEach(b => dots(g, b, x, y, 14.5, 16.2, '#1e78b4'));
})();
/* panels E and F */
(function () {
  const g = document.getElementById('e-layer');
  const x = linear(-400, 800, 241, 1257), y = linear(-250, 500, 1140, 361);
  gridAndAxes(g, {x:x, y:y, left:241, right:1274, top:196, bottom:1358, xTicks:ticksAx, yTicks:ticksAy, xBase:1455, gridX:[-200,0,200,400,600], gridY:[625,500,375,250,125,0,-125,-250,-375]});
  contours(g, contourEShapes, contourELevels, x, y, 1.6, 9, 7.5, 'clip-e');
  cbLabels(g.parentNode, [[1393,550,'7.5'],[1400,793,'5'],[1393,1088,'2.5']]);
})();
(function () {
  const g = document.getElementById('f-layer');
  const x = linear(-400, 800, 269, 1234), y = linear(-200, 400, 1241, 295);
  gridAndAxes(g, {x:x, y:y, left:249, right:1276, top:187, bottom:1356, xTicks:ticksAx, yTicks:ticksBy, xBase:1445, gridX:[-200,0,200,400,600], gridY:[400,300,200,100,0,-100,-200]});
  contours(g, contourFShapes, contourFLevels, x, y, 0.3, 7.8, 6.5, 'clip-f');
  cbLabels(g.parentNode, [[1408,578,'6'],[1410,775,'4'],[1413,1005,'2']]);
})();
/* panels G and H */
function crom(a, b, c, d, t) {
  return 0.5 * ((2 * b) + (c - a) * t + (2 * a - 5 * b + 4 * c - d) * t * t + (3 * b - a - 3 * c + d) * t * t * t);
}
function sampleGrid(G, fu, fv) {
  const n = G.length - 1, m = G[0].length - 1;
  const r = Math.min(n - 1, Math.floor(fu)), s = Math.min(m - 1, Math.floor(fv));
  const tu = fu - r, tv = fv - s, rows = [];
  for (let a = -1; a <= 2; a++) {
    const R = G[Math.max(0, Math.min(n, r + a))];
    rows.push(crom(R[Math.max(0, s - 1)], R[s], R[s + 1], R[Math.min(m, s + 2)], tv));
  }
  return crom(rows[0], rows[1], rows[2], rows[3], tu);
}
function surface(g, G, c) {
  const sub = 5, n = (G.length - 1) * sub, m = (G[0].length - 1) * sub;
  const zw = linear(c.zFloor, c.zTop, 0, 1);
  function bil(Q, u, v) {
    const f = k => Q.L[k] * (1 - u) * (1 - v) + Q.F[k] * u * (1 - v) + Q.B[k] * (1 - u) * v + Q.R[k] * u * v;
    return [f(0), f(1)];
  }
  const Z = [], P = [];
  for (let i = 0; i <= n; i++) {
    Z.push([]); P.push([]);
    for (let j = 0; j <= m; j++) {
      const z = Math.max(c.zMin, sampleGrid(G, i / sub, j / sub));
      const u = i / n, v = j / m, w = zw(z), a = bil(c.floor, u, v), b = bil(c.top, u, v);
      Z[i].push(z);
      P[i].push([a[0] + (b[0] - a[0]) * w, a[1] + (b[1] - a[1]) * w]);
    }
  }
  const layer = mk('g', g, 'energy-surface', {});
  for (let i = 0; i < n; i++) {
    for (let j = m - 1; j >= 0; j--) {
      const zAvg = (Z[i][j] + Z[i + 1][j] + Z[i][j + 1] + Z[i + 1][j + 1]) / 4;
      const col = jet((zAvg - c.barMin) / (c.barMax - c.barMin));
      const pts = [P[i][j], P[i + 1][j], P[i + 1][j + 1], P[i][j + 1]].map(p => p[0].toFixed(1) + ',' + p[1].toFixed(1)).join(' ');
      mk('polygon', layer, 'surface-cell', {points:pts, fill:col, stroke:col, 'stroke-width':1.2});
    }
  }
}
function ticks3d(g, list, size) {
  list.forEach(t => mk('line', g, 'axis-tick', {x1:t[0], y1:t[1], x2:t[2], y2:t[3], stroke:'#555', 'stroke-width':size || 6}));
}
function labels3d(g, list) {
  list.forEach(t => txt(g, 'axis-tick-label', t[0], t[1], t[2], 60, 'middle'));
}
(function () {
  const g = document.getElementById('g-layer');
  surface(g, surfaceGHeights, {zFloor:1, zTop:8.7, zMin:1, barMin:1, barMax:9,
    floor:{L:[375,937],F:[815,1345],R:[1150,882],B:[753,646]},
    top:{L:[218,418],F:[845,812],R:[1292,370],B:[737,190]}});
  ticks3d(g, [[198,490,235,490],[250,640,285,640],[285,775,325,775],[325,887,360,887],[420,980,410,1005],[490,1045,480,1070],[565,1115,553,1143],[640,1190,628,1218],[735,1275,722,1302],[1150,895,1165,925],[1095,965,1107,995],[1040,1035,1053,1065],[975,1125,988,1155],[900,1228,915,1258],[820,1350,833,1382]]);
  labels3d(g, [[178,512,'8'],[228,660,'6'],[265,795,'4'],[305,908,'2'],[390,1062,'\u2212200'],[463,1113,'0'],[540,1192,'200'],[622,1270,'400'],[708,1353,'800'],[1217,978,'800'],[1135,1058,'400'],[1065,1125,'200'],[1005,1207,'0'],[930,1325,'\u2212200'],[830,1435,'\u2212400']]);
  cbLabels(g.parentNode, [[1452,305,'8',50],[1452,618,'6',50],[1452,933,'4',50],[1452,1250,'2',50]]);
})();
(function () {
  const g = document.getElementById('h-layer');
  surface(g, surfaceHHeights, {zFloor:0.6, zTop:9.9, zMin:0.8, barMin:0.6, barMax:10.4,
    floor:{L:[412,965],F:[820,1355],R:[1128,910],B:[748,696]},
    top:{L:[272,482],F:[833,841],R:[1255,432],B:[745,260]}});
  ticks3d(g, [[230,463,268,463],[270,605,305,605],[310,722,345,722],[335,826,372,826],[362,917,400,917],[447,1010,438,1035],[517,1070,508,1097],[585,1135,575,1160],[648,1198,636,1226],[723,1280,712,1307],[1110,950,1125,980],[1040,1052,1053,1082],[950,1175,965,1207],[870,1290,885,1320]]);
  labels3d(g, [[200,490,'10'],[253,628,'8'],[292,752,'6'],[320,850,'4'],[340,942,'2'],[395,1088,'\u2212200'],[492,1145,'0'],[567,1225,'200'],[607,1290,'400'],[708,1362,'600'],[1138,1040,'400'],[1083,1142,'200'],[985,1260,'0'],[890,1385,'\u2212200']]);
  cbLabels(g.parentNode, [[1405,240,'10',50],[1405,492,'8',50],[1405,745,'6',50],[1405,1000,'4',50],[1405,1247,'2',50]]);
})();
/* panels I and J */
function heatFill(v) {
  if (v < -0.7) return 'url(#p-speck)';
  if (v < -0.25) return 'url(#p-light)';
  if (v < 0.2) return 'url(#p-teal)';
  if (v < 0.45) return 'url(#p-mix)';
  if (v < 0.65) return 'url(#p-gray)';
  if (v < 0.85) return 'url(#p-blue)';
  return 'url(#p-navy)';
}
const corrBarEdges = [1,0.75,0.5,0.25,-0.25,-0.5,-0.75,-1];
const corrBarColors = ['#231a68','#0b5c9c','#0e90aa','#28b8a8','#90d6b8','#cbeec8','#fdfdda'];
const corrBarTicks = [1,0.5,0,-0.5,-1];
function heatmap(g, rows, c) {
  const nc = rows[0].length, nr = rows.length;
  const sx = linear(0, nc, c.x0, c.x1), sy = linear(0, nr, c.y0, c.y1);
  const layer = mk('g', g, 'correlation-cells', {'shape-rendering':'crispEdges'});
  rows.forEach((row, r) => {
    for (let k = 0; k < nc; k++) {
      const v = corrLevels[+row[k]];
      mk('rect', layer, 'heatmap-cell', {x:sx(k), y:sy(r), width:sx(k + 1) - sx(k) + 0.6, height:sy(r + 1) - sy(r) + 0.6, fill:heatFill(v)});
    }
  });
  mk('rect', g, 'heatmap-fine-texture', {x:c.x0, y:c.y0, width:c.x1 - c.x0, height:c.y1 - c.y0, fill:'url(#p-weave)', 'fill-opacity':0.22});
  const by = linear(1, -1, c.by0, c.by1);
  corrBarColors.forEach((col, i) => mk('rect', g, 'colorbar-band', {x:c.bx0, y:by(corrBarEdges[i]), width:c.bx1 - c.bx0, height:by(corrBarEdges[i + 1]) - by(corrBarEdges[i]), fill:col}));
  mk('rect', g, 'colorbar-outline', {x:c.bx0, y:c.by0, width:c.bx1 - c.bx0, height:c.by1 - c.by0, fill:'none', stroke:'#8a8a8a', 'stroke-width':3});
  corrBarTicks.forEach(v => {
    mk('line', g, 'colorbar-tick', {x1:c.bx1, x2:c.bx1 + 34, y1:by(v), y2:by(v), stroke:'#555', 'stroke-width':6});
    const s = (v < 0 ? '\u2212' : '') + Math.abs(v).toFixed(1);
    txt(g, 'colorbar-tick-label', c.bx1 + (v < 0 ? 40 : 48), by(v) + 20, s, 50);
  });
}
(function () {
  const g = document.getElementById('i-layer');
  heatmap(g, matrixI, {x0:283, x1:1217, y0:226, y1:1307, bx0:1312, bx1:1383, by0:226, by1:1307});
  ticks3d(g, [[286,183,286,226],[611,183,611,226],[942,183,942,226],[1217,330,1252,330],[1217,572,1252,572],[1217,817,1252,817],[1217,1063,1252,1063],[1217,1305,1258,1305],[247,545,283,545],[247,922,283,922],[247,1303,283,1303],[283,1307,283,1345],[610,1307,610,1345],[940,1307,940,1345]]);
  labels3d(g, [[285,1408,'1'],[617,1408,'500'],[938,1408,'1000']]);
  txt(g, 'y-tick-label', 245, 570, '1000', 60, 'end');
  txt(g, 'y-tick-label', 245, 945, '500', 60, 'end');
  txt(g, 'y-tick-label', 245, 1310, '1', 60, 'end');
})();
(function () {
  const g = document.getElementById('j-layer');
  heatmap(g, matrixJ, {x0:296, x1:1228, y0:198, y1:1305, bx0:1322, bx1:1393, by0:198, by1:1305});
  ticks3d(g, [[296,170,296,198],[540,170,540,198],[786,170,786,198],[1033,170,1033,198],[1228,551,1252,551],[1228,928,1252,928],[1228,1305,1252,1305],[258,553,296,553],[258,932,296,932],[258,1305,296,1305],[296,1305,296,1350],[612,1305,612,1350],[930,1305,930,1350]]);
  labels3d(g, [[290,1412,'1'],[612,1405,'400'],[928,1408,'1000']]);
  txt(g, 'y-tick-label', 258, 572, '1000', 60, 'end');
  txt(g, 'y-tick-label', 258, 950, '500', 60, 'end');
  txt(g, 'y-tick-label', 258, 1312, '1', 60, 'end');
})();
/* undo the panels' slight anisotropic scale on text so glyphs keep their proportions */
const panelAspect = {a:1.086, b:1.086, c:1.094, d:1.122, e:1.122, f:1.13, g:1.098, h:1.098, i:1.095, j:1.109};
Object.keys(panelAspect).forEach(id => {
  const r = panelAspect[id];
  document.querySelectorAll('#panel-' + id + ' text').forEach(el => {
    const tr = el.getAttribute('transform');
    if (!tr) {
      const x = el.getAttribute('x'), y = el.getAttribute('y');
      el.setAttribute('transform', 'translate(' + x + ' ' + y + ') scale(1 ' + r + ') translate(' + (-x) + ' ' + (-y) + ')');
    } else if (/rotate\((-90|76|73)\)/.test(tr)) {
      el.setAttribute('transform', tr + ' scale(1 ' + (1 / r) + ')');
    }
  });
});
</script>
</body>
</html>
